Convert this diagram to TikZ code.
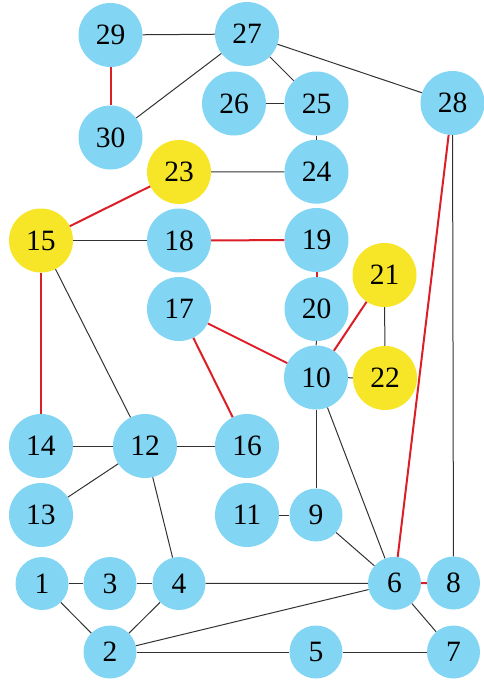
\documentclass[tikz,border=0pt]{standalone}
\usepackage{fontspec}
\setmainfont{Liberation Serif}
\definecolor{nblue}{RGB}{130,213,243}
\definecolor{nyellow}{RGB}{247,229,40}
\definecolor{ered}{RGB}{220,30,38}
\definecolor{eblack}{RGB}{50,50,50}
\begin{document}
\begin{tikzpicture}[x=1pt,y=-1pt,
  vtx/.style={circle,fill=nblue,minimum size=64pt,inner sep=0pt,font=\fontsize{29.5}{29.5}\selectfont},
  svtx/.style={vtx,minimum size=53pt},
  yvtx/.style={vtx,fill=nyellow},
  bl/.style={draw=eblack,line width=1pt},
  rd/.style={draw=ered,line width=2pt}]
\useasboundingbox (0,0) rectangle (484,681);
\node[vtx] (n29) at (110.5,35) {29};
\node[vtx] (n27) at (247,34) {27};
\node[vtx] (n26) at (234,103.5) {26};
\node[vtx] (n25) at (316.5,103.5) {25};
\node[vtx] (n28) at (452.5,103) {28};
\node[vtx] (n30) at (110.5,137.5) {30};
\node[yvtx] (n23) at (179,172) {23};
\node[vtx] (n24) at (316.5,171.7) {24};
\node[yvtx] (n15) at (41,240.5) {15};
\node[vtx] (n18) at (179,240.5) {18};
\node[vtx] (n19) at (316.5,240) {19};
\node[yvtx] (n21) at (384.5,275) {21};
\node[vtx] (n17) at (179,309) {17};
\node[vtx] (n20) at (316.5,309) {20};
\node[vtx] (n10) at (316,377.5) {10};
\node[yvtx] (n22) at (385,378) {22};
\node[vtx] (n14) at (41,446) {14};
\node[vtx] (n12) at (145,446) {12};
\node[vtx] (n16) at (247,446) {16};
\node[vtx] (n11) at (247,515) {11};
\node[svtx] (n9) at (316,515) {9};
\node[vtx] (n13) at (41,515) {13};
\node[svtx] (n1) at (42,583.5) {1};
\node[svtx] (n3) at (110,583.5) {3};
\node[svtx] (n4) at (179,583.5) {4};
\node[svtx] (n6) at (394.5,583.3) {6};
\node[svtx] (n8) at (453.5,583) {8};
\node[svtx] (n2) at (110,652) {2};
\node[svtx] (n5) at (316,652) {5};
\node[svtx] (n7) at (453.5,652) {7};
\draw[bl] (n29) -- (n27);
\draw[rd] (n29) -- (n30);
\draw[bl] (n30) -- (n27);
\draw[bl] (n27) -- (n25);
\draw[bl] (n27) -- (n28);
\draw[bl] (n26) -- (n25);
\draw[bl] (n25) -- (n24);
\draw[bl] (n23) -- (n24);
\draw[rd] (n23) -- (n15);
\draw[bl] (n15) -- (n18);
\draw[rd] (n18) -- (n19);
\draw[rd] (n19) -- (n20);
\draw[bl] (n20) -- (n10);
\draw[rd] (n21) -- (n10);
\draw[bl] (n21) -- (n22);
\draw[bl] (n10) -- (n22);
\draw[rd] (n17) -- (n10);
\draw[rd] (n17) -- (n16);
\draw[rd] (n15) -- (n14);
\draw[bl] (n15) -- (n12);
\draw[bl] (n14) -- (n12);
\draw[bl] (n12) -- (n16);
\draw[bl] (n12) -- (n13);
\draw[bl] (n12) -- (n4);
\draw[bl] (n10) -- (n9);
\draw[bl] (n10) -- (n6);
\draw[bl] (n11) -- (n9);
\draw[bl] (n9) -- (n6);
\draw[rd] (n28) -- (n6);
\draw[bl] (n28) -- (n8);
\draw[rd] (n6) -- (n8);
\draw[bl] (n1) -- (n3);
\draw[bl] (n3) -- (n4);
\draw[bl] (n1) -- (n2);
\draw[bl] (n4) -- (n2);
\draw[bl] (n4) -- (n6);
\draw[bl] (n2) -- (n6);
\draw[bl] (n6) -- (n7);
\draw[bl] (n2) -- (n5);
\draw[bl] (n5) -- (n7);
\end{tikzpicture}
\end{document}
